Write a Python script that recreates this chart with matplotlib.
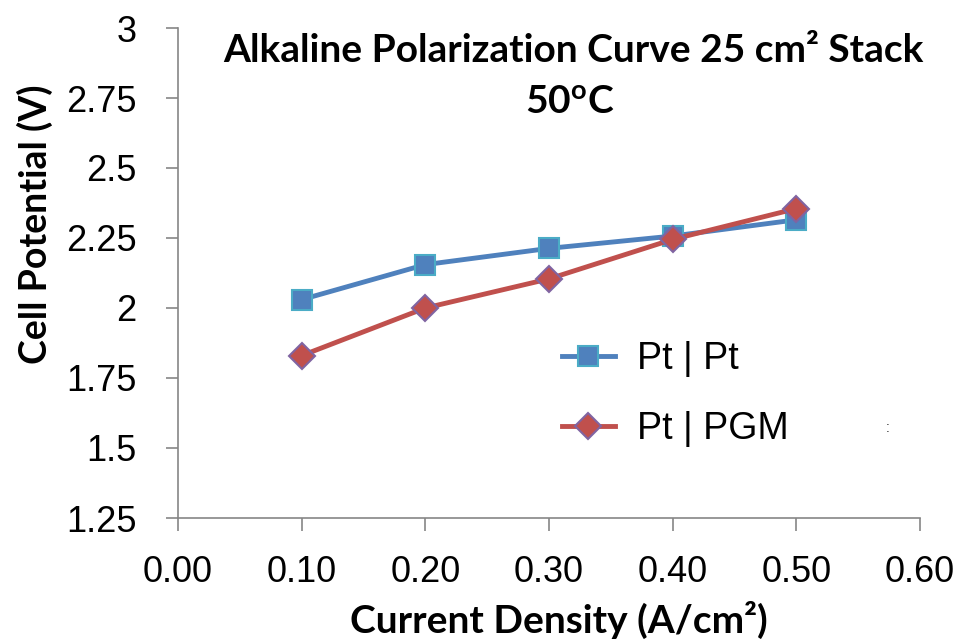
import numpy as np
import matplotlib
matplotlib.use("Agg")
import matplotlib.pyplot as plt

# data
current_density = [0.1, 0.2, 0.3, 0.4, 0.5]
pt_pt = [2.03, 2.155, 2.213, 2.257, 2.315]
pt_pgm = [1.83, 2.0, 2.104, 2.245, 2.355]
x_ticks = [0.0, 0.1, 0.2, 0.3, 0.4, 0.5, 0.6]
y_ticks = [1.25, 1.5, 1.75, 2.0, 2.25, 2.5, 2.75, 3.0]
y_tick_labels = ["1.25", "1.5", "1.75", "2", "2.25", "2.5", "2.75", "3"]

plt.rcParams["font.family"] = ["Liberation Sans", "DejaVu Sans"]
plt.rcParams["mathtext.fontset"] = "custom"
plt.rcParams["mathtext.rm"] = "Lato:bold"
plt.rcParams["mathtext.bf"] = "Lato:bold"

fig = plt.figure(figsize=(9.59, 6.42), dpi=100)
ax = fig.add_axes([178 / 959, 1 - 518 / 642, 742 / 959, 490 / 642])

ax.plot(current_density, pt_pt, color="#4F81BD", lw=3.5, marker="s", ms=15,
        mfc="#4F81BD", mec="#4BACC6", mew=1.5, label="Pt | Pt", zorder=3)
ax.plot(current_density, pt_pgm, color="#C0504D", lw=3.5, marker="D", ms=13,
        mfc="#C0504D", mec="#8064A2", mew=1.5, label="Pt | PGM", zorder=4)

ax.set_xlim(0, 0.6)
ax.set_ylim(1.25, 3.0)
ax.set_xticks(x_ticks)
ax.set_xticklabels([f"{v:.2f}" for v in x_ticks])
ax.set_yticks(y_ticks)
ax.set_yticklabels(y_tick_labels)

for side in ("top", "right"):
    ax.spines[side].set_visible(False)
for side in ("left", "bottom"):
    ax.spines[side].set_color("#868686")
    ax.spines[side].set_linewidth(1.2)
ax.tick_params(axis="both", direction="out", length=9, width=1.2, color="#868686",
               labelsize=26, labelcolor="black")
ax.tick_params(axis="x", pad=18)
ax.tick_params(axis="y", pad=21)

ax.set_xlabel("Current Density (A/cm²)", fontsize=28, fontweight="bold", family="Lato")
ax.set_ylabel("Cell Potential (V)", fontsize=27, fontweight="bold", family="Lato")
ax.xaxis.set_label_coords((559 - 178) / 742, (518 - 620) / 490)
ax.yaxis.set_label_coords((35 - 178) / 742, (518 - 224) / 490)
ax.xaxis.label.set_va("center")
ax.yaxis.label.set_va("center")

fig.text(573 / 959, 1 - 50 / 642, "Alkaline Polarization Curve 25 cm² Stack",
         ha="center", va="center", fontsize=28, fontweight="bold", family="Lato")
fig.text(570 / 959, 1 - 103 / 642, r"50$^{\mathrm{o}}$C",
         ha="center", va="center", fontsize=28, fontweight="bold", family="Lato")

leg = ax.legend(loc="upper left", bbox_to_anchor=((562 - 178) / 742, (518 - 341) / 490),
                frameon=False, fontsize=27, handlelength=1.4, labelspacing=0.9,
                borderaxespad=0, borderpad=0, handletextpad=0.6)

fig.text(888 / 959, 1 - 428 / 642, ":", fontsize=10, color="#333333",
         ha="center", va="center")

fig.savefig("out.png", dpi=100)
